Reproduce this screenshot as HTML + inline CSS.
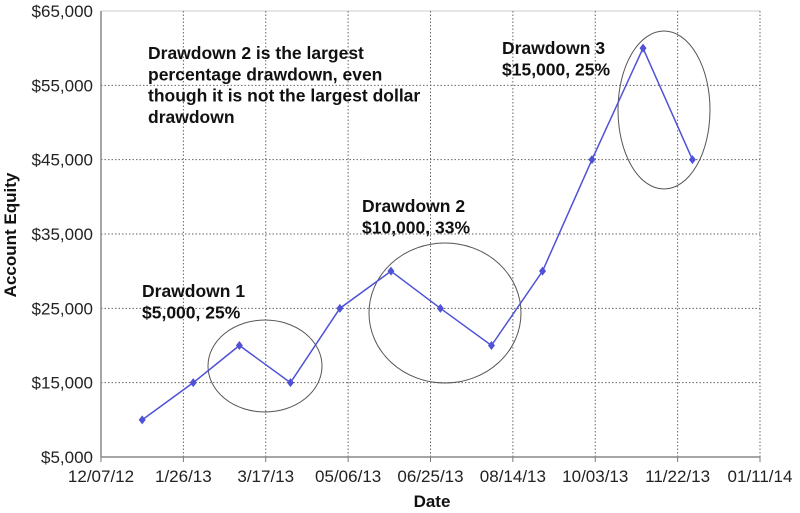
<!DOCTYPE html>
<html><head><meta charset="utf-8"><style>
body{margin:0;background:#fff;}
svg{display:block;font-family:"Liberation Sans",Arial,sans-serif;}
</style></head><body>
<svg id="chart" width="800" height="513" viewBox="0 0 800 513"></svg>
<script>
const xTickLabels=["12/07/12","1/26/13","3/17/13","05/06/13","06/25/13","08/14/13","10/03/13","11/22/13","01/11/14"];
const yTickValues=[5000,15000,25000,35000,45000,55000,65000];
const pointDays=[25,56,84,115,145,176,206,237,268,298,329,359];
const equityValues=[10000,15000,20000,15000,25000,30000,25000,20000,30000,45000,60000,45000];
const NS="http://www.w3.org/2000/svg";
const svg=document.getElementById('chart');
const X0=101,X1=760,Y0=457,Y1=11;
const xs=d=>X0+(d/400)*(X1-X0);
const ys=v=>Y0-(v-5000)/60000*(Y0-Y1);
function mk(t,a,p){const e=document.createElementNS(NS,t);for(const k in a)e.setAttribute(k,a[k]);(p||svg).appendChild(e);return e;}
yTickValues.forEach((v,i)=>{
  const y=ys(v);
  if(i>0){const g=mk('line',{x1:X0,x2:X1,y1:y,y2:y,stroke:i==yTickValues.length-1?'#ccc':'#666','stroke-dasharray':i==yTickValues.length-1?'':'1.5,2','stroke-width':1});
  
  }
  const t=mk('text',{x:X0-8,y:y+6,'text-anchor':'end','font-size':17,fill:'#222'});
  t.textContent='$'+v.toLocaleString('en-US');
  
  
});
xTickLabels.forEach((l,i)=>{
  const x=X0+i*(X1-X0)/(xTickLabels.length-1);
  if(i>0){const g=mk('line',{x1:x,x2:x,y1:Y1,y2:Y0,stroke:'#666','stroke-dasharray':'1.5,2'});
  
  }
  const tk=mk('line',{x1:x,x2:x,y1:Y0,y2:Y0+5,stroke:'#777'});
  
  
  const t=mk('text',{x:x,y:Y0+25,'text-anchor':'middle','font-size':17,fill:'#222'});
  t.textContent=l;
  
  
});
const ax=mk('path',{d:`M${X0},${Y1}V${Y0}H${X1}`,stroke:'#888',fill:'none','stroke-width':1.5});


[[265,366,57,46],[445,313,76,70],[664,110,46,79]].forEach((e,i)=>{
  const el=mk('ellipse',{cx:e[0],cy:e[1],rx:e[2],ry:e[3],fill:'none',stroke:'#555','stroke-width':1});
  
  
});
const line=mk('polyline',{points:pointDays.map((d,i)=>xs(d)+','+ys(equityValues[i])).join(' '),fill:'none',stroke:'#4f52d6','stroke-width':1.5});


pointDays.forEach((d,i)=>{
  const x=xs(d),y=ys(equityValues[i]);
  const p=mk('path',{d:`M${x},${y-4.5}L${x+3.5},${y}L${x},${y+4.5}L${x-3.5},${y}Z`,fill:'#4f52d6'});
  
  
});
function txt(lines,x,y0,lh,name){lines.forEach((s,i)=>{const t=mk('text',{x:x,y:y0+i*lh,'font-size':17.5,'font-weight':'bold',fill:'#111'});t.textContent=s;

});}
txt(["Drawdown 2 is the largest","percentage drawdown, even","though it is not the largest dollar","drawdown"],148,59,21.3,'note-text');
txt(["Drawdown 1","$5,000, 25%"],142,297,21.5,'drawdown-1-label');
txt(["Drawdown 2","$10,000, 33%"],362,212,21.5,'drawdown-2-label');
txt(["Drawdown 3","$15,000, 25%"],502,54,21.5,'drawdown-3-label');
const yt=mk('text',{x:0,y:0,transform:'translate(16,235) rotate(-90)','text-anchor':'middle','font-size':17,'font-weight':'bold',fill:'#111'});
yt.textContent='Account Equity';


const xt=mk('text',{x:432,y:507,'text-anchor':'middle','font-size':17,'font-weight':'bold',fill:'#111'});
xt.textContent='Date';


</script>
</body></html>
